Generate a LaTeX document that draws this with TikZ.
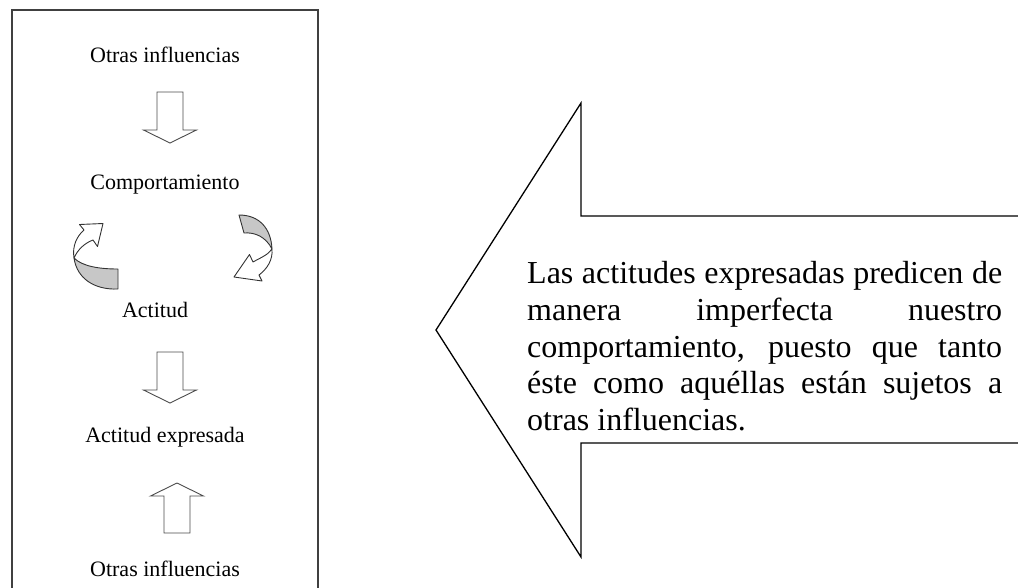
\documentclass[tikz,border=0pt]{standalone}
\usepackage{fontspec}
\setmainfont{Liberation Serif}
\newcommand\blockdown[2]{%
  \draw[blk] (#1-13,#2) -- (#1+13,#2) -- (#1+13,#2+38) -- (#1+26.5,#2+38)
    -- (#1,#2+51) -- (#1-26.5,#2+38) -- (#1-13,#2+38) -- cycle;}
\newcommand\blockup[2]{%
  \draw[blk] (#1-13,#2+50) -- (#1+13,#2+50) -- (#1+13,#2+13) -- (#1+26.5,#2+13)
    -- (#1,#2) -- (#1-26.5,#2+13) -- (#1-13,#2+13) -- cycle;}
\begin{document}
\begin{tikzpicture}[x=1pt,y=-1pt,
  lbl/.style={inner sep=0pt,font=\fontsize{22}{26}\selectfont},
  blk/.style={draw=black!70,line width=0.9pt,fill=white,line join=miter},
  curv/.style={draw=black!80,line width=0.9pt,line join=round},
  big/.style={draw=black,line width=1.3pt,line join=miter}]
\useasboundingbox (0,0) rectangle (1018,587);
\clip (0,0) rectangle (1018,587);
% left frame
\draw[draw=black!75,line width=1.8pt] (12,600) -- (12,10) -- (318,10) -- (318,600);
% labels
\node[lbl] (oi1) at (165,55) {Otras influencias};
\node[lbl] (comp) at (165,185) {Comportamiento};
\node[lbl] (act) at (155,310) {Actitud};
\node[lbl] (actexp) at (165,437) {Actitud expresada};
\node[lbl] (oi2) at (165,569) {Otras influencias};
% block arrows
\blockdown{170}{92}
\blockdown{170}{352}
\blockup{177}{483}
% left curved arrow (tail bottom-right, head top-right)
\draw[curv,fill=black!22] (118,269) -- (118,289)
  .. controls (95,290) and (77,279) .. (74,258)
  .. controls (82,266) and (98,269) .. (118,269) -- cycle;
\draw[curv,fill=white] (74,258) .. controls (72,246) and (77,236) .. (84,230)
  -- (79.5,224.5) -- (103,223.5) -- (97.5,246.5) -- (93,240)
  .. controls (85,243) and (78,249) .. (74,258) -- cycle;
% right curved arrow (tail top-left, head bottom-left)
\draw[curv,fill=black!22] (239,215) .. controls (259,215) and (271,228) .. (272,249)
  .. controls (266,237) and (255,232) .. (244,233) -- cycle;
\draw[curv,fill=white] (272,249) .. controls (273,260) and (267,269) .. (259,275)
  -- (262,281) -- (234,277) -- (249.5,254.5) -- (253,262)
  .. controls (260,258) and (268,255) .. (272,249) -- cycle;
% big arrow
\draw[big] (1030,216) -- (581,216) -- (581,103) -- (436,330) -- (581,557)
  -- (581,443) -- (1030,443);
\node[anchor=north west,inner sep=0pt,text width=475pt,align=justify,
  font=\fontsize{32}{36.8}\selectfont] (txt) at (527,261)
  {Las actitudes expresadas predicen de\linebreak
   manera imperfecta nuestro\linebreak
   comportamiento, puesto que tanto\linebreak
   éste como aquéllas están sujetos a\linebreak
   otras influencias.};
\end{tikzpicture}
\end{document}
